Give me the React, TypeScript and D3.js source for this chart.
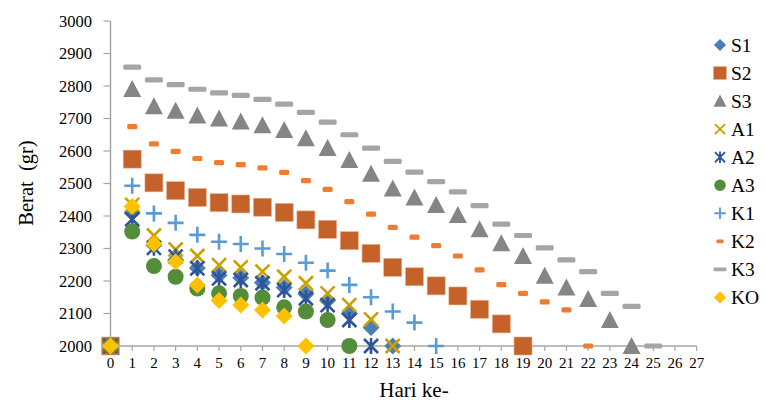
import React from "react";
import * as d3 from "d3";

const days = d3.range(0, 28);
const yTicks = [2000, 2100, 2200, 2300, 2400, 2500, 2600, 2700, 2800, 2900, 3000];

const S1 = [2000, 2410, 2310, 2265, 2240, 2218, 2210, 2195, 2180, 2160, 2140, 2100, 2057, 2000];
const S2 = [2000, 2575, 2502, 2478, 2457, 2441, 2437, 2427, 2411, 2388, 2359, 2324, 2285, 2242, 2213, 2185, 2154, 2113, 2068, 2000];
const S3 = [2000, 2791, 2738, 2724, 2709, 2700, 2691, 2679, 2665, 2639, 2609, 2572, 2530, 2485, 2457, 2434, 2403, 2359, 2316, 2277, 2216, 2180, 2145, 2080, 2000];
const A1 = [2000, 2434, 2340, 2297, 2277, 2249, 2242, 2229, 2213, 2193, 2162, 2126, 2082, 2000];
const A2 = [2000, 2390, 2302, 2275, 2239, 2208, 2203, 2193, 2172, 2147, 2126, 2080, 2000];
const A3 = [2000, 2352, 2246, 2213, 2177, 2162, 2154, 2149, 2119, 2106, 2080, 2000];
const K1 = [2000, 2493, 2408, 2379, 2342, 2321, 2314, 2300, 2283, 2256, 2232, 2188, 2150, 2106, 2072, 2000];
const K2 = [2000, 2675, 2622, 2599, 2577, 2564, 2558, 2548, 2534, 2509, 2482, 2444, 2406, 2365, 2335, 2309, 2277, 2234, 2189, 2162, 2136, 2111, 2000];
const K3 = [2000, 2858, 2819, 2804, 2790, 2779, 2771, 2759, 2744, 2719, 2689, 2650, 2609, 2568, 2535, 2506, 2474, 2432, 2375, 2340, 2302, 2265, 2229, 2162, 2122, 2000];
const KO = [2000, 2429, 2314, 2259, 2188, 2140, 2126, 2111, 2092, 2000];

type Shape = "diamond" | "square" | "triangle" | "x" | "star" | "circle" | "plus" | "dashS" | "dashL";
const seriesNames = ["S1", "S2", "S3", "A1", "A2", "A3", "K1", "K2", "K3", "KO"];
const seriesValues = [S1, S2, S3, A1, A2, A3, K1, K2, K3, KO];
const seriesShapes: Shape[] = ["diamond", "square", "triangle", "x", "star", "circle", "plus", "dashS", "dashL", "diamond"];
const seriesColors = ["#4A7EB6", "#C4622A", "#858585", "#C9A000", "#2F5597", "#548D3A", "#5B9BD5", "#ED7D31", "#A5A5A5", "#FFC000"];

function Marker({ shape, color, x, y, s = 1 }: { shape: Shape; color: string; x: number; y: number; s?: number }) {
  const t = `translate(${x},${y}) scale(${s})`;
  switch (shape) {
    case "diamond":
      return <path transform={t} d="M0,-8.5L8.5,0L0,8.5L-8.5,0Z" fill={color} />;
    case "square":
      return <rect transform={t} x={-9} y={-9} width={18} height={18} fill={color} stroke="#E8B090" strokeWidth={0.6} />;
    case "triangle":
      return <path transform={t} d="M0,-9L9,8L-9,8Z" fill={color} />;
    case "x":
      return <path transform={t} d="M-7,-7L7,7M-7,7L7,-7" stroke={color} strokeWidth={2.6} fill="none" />;
    case "star":
      return <path transform={t} d="M-7,-7L7,7M-7,7L7,-7M0,-8L0,8" stroke={color} strokeWidth={2.6} fill="none" />;
    case "circle":
      return <circle transform={t} r={8} fill={color} />;
    case "plus":
      return <path transform={t} d="M-8,0L8,0M0,-8L0,8" stroke={color} strokeWidth={2.6} fill="none" />;
    case "dashS":
      return <rect transform={t} x={-5} y={-2.6} width={10} height={5.2} rx={1.5} fill={color} />;
    case "dashL":
      return <rect transform={t} x={-9} y={-2.6} width={18} height={5.2} rx={1.5} fill={color} />;
  }
}

export default function App() {
  const W = 766, H = 404;
  const x = d3.scaleLinear().domain([0, 27]).range([110.5, 696.7]);
  const y = d3.scaleLinear().domain([2000, 3000]).range([346, 21]);
  const axisColor = "#A6A6A6";
  const font = "'Liberation Serif', 'Times New Roman', serif";

  return (
    <svg width={W} height={H} style={{ position: "absolute", left: 0, top: 0, background: "#fff" }} fontFamily={font}>
      {/* y axis */}
      <line x1={x(0)} x2={x(0)} y1={y(3000)} y2={y(2000)} stroke={axisColor} strokeWidth={1.5} />
      {yTicks.map((t) => (
        <g key={t}>
          <line x1={x(0) - 7} x2={x(0)} y1={y(t)} y2={y(t)} stroke={axisColor} strokeWidth={1.2} />
          <text x={92} y={y(t)} dy="0.35em" textAnchor="end" fontSize={16.5} fill="#000">{t}</text>
        </g>
      ))}
      {/* x axis */}
      <line x1={x(0)} x2={x(27)} y1={y(2000)} y2={y(2000)} stroke={axisColor} strokeWidth={1.5} />
      {days.map((d) => (
        <g key={d}>
          <line x1={x(d)} x2={x(d)} y1={y(2000)} y2={y(2000) + 5} stroke={axisColor} strokeWidth={1.2} />
          <text x={x(d)} y={y(2000) + 17} dy="0.35em" textAnchor="middle" fontSize={15} fill="#000">{d}</text>
        </g>
      ))}
      {/* series */}
      {seriesValues.map((vals, i) => (
        <g key={seriesNames[i]}>
          {vals.map((v, j) => (
            <Marker key={j} shape={seriesShapes[i]} color={seriesColors[i]} x={x(days[j])} y={y(v)} />
          ))}
        </g>
      ))}
      {/* titles */}
      <text x={414} y={390} dy="0.35em" textAnchor="middle" fontSize={21} fill="#000">Hari ke-</text>
      <text transform={`translate(26,183) rotate(-90)`} dy="0.35em" textAnchor="middle" fontSize={20.5} fill="#000" style={{ whiteSpace: "pre" }}>{"Berat  (gr)"}</text>
      {/* legend */}
      {seriesNames.map((n, i) => {
        const ly = 45 + i * 28.05;
        return (
          <g key={n}>
            <Marker shape={seriesShapes[i]} color={seriesColors[i]} x={720} y={ly} s={0.72} />
            <text x={731} y={ly} dy="0.35em" fontSize={19.5} fill="#000">{n}</text>
          </g>
        );
      })}
    </svg>
  );
}
